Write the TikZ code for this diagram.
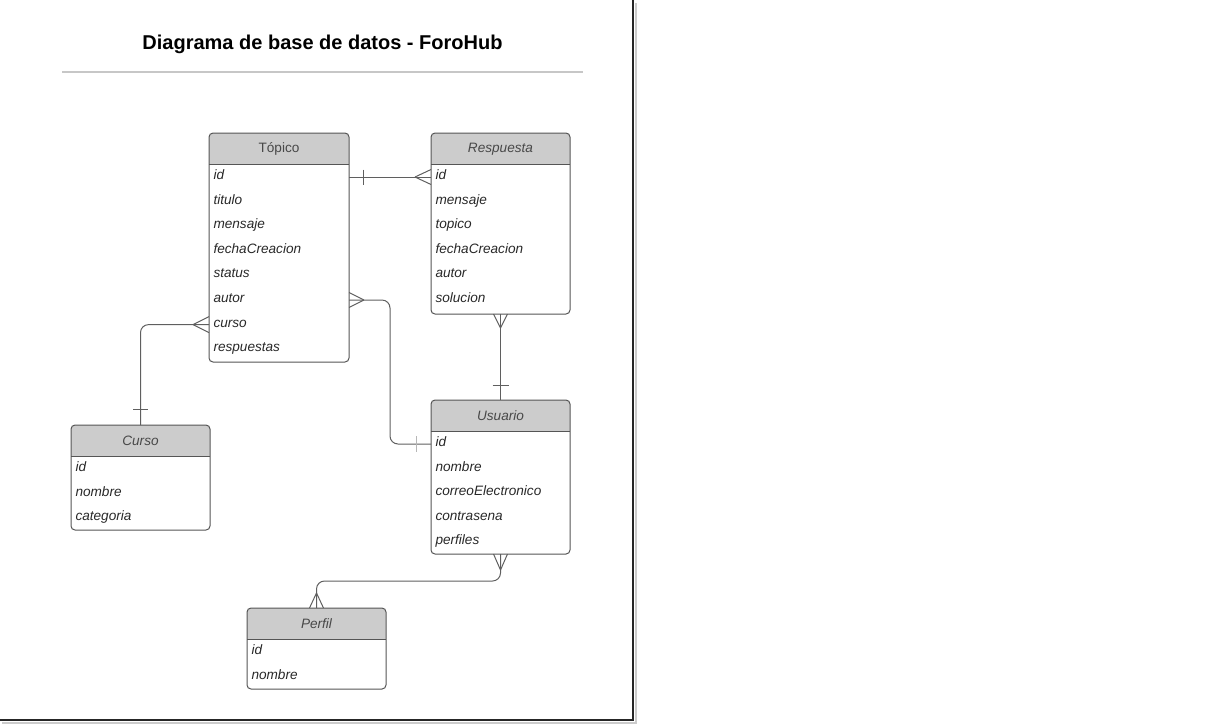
\documentclass[tikz,border=0pt]{standalone}
\usepackage{fontspec}
\setmainfont{Liberation Sans}
\usetikzlibrary{calc}

\definecolor{hdrgray}{RGB}{204,204,204}
\definecolor{boxline}{RGB}{85,85,85}
\definecolor{relline}{RGB}{95,95,95}
\definecolor{fldtext}{RGB}{40,40,40}

\begin{document}
\begin{tikzpicture}[x=0.75pt, y=-0.75pt, line width=0.75pt,
  tbl/.style={anchor=north west, inner sep=0pt, minimum width=103.5pt},
  hdr/.style={font=\fontsize{10.2}{12}\selectfont, text=fldtext!85},
  fld/.style={anchor=west, inner xsep=3pt, inner ysep=0pt, text height=6.75pt, text depth=3pt,
    font=\fontsize{10.2}{12}\selectfont\itshape, text=fldtext},
  rel/.style={draw=relline, line width=0.75pt}]
\useasboundingbox (0,0) rectangle (1226,726);
% page
\draw[black!20, line width=1.5pt] (2,722.5) -- (635.5,722.5) -- (635.5,3);
\draw[black!85, line width=1.2pt] (0,720) -- (633,720) -- (633,0);
\node[font=\fontsize{15}{18}\selectfont\bfseries] (title) at (322.5,44) {Diagrama de base de datos - ForoHub};
\draw[black!22, line width=1.5pt] (62,71.5) -- (583,71.5);
%
\node[tbl, minimum width=104.25pt, minimum height=171pt] (topico) at (209,133) {};
\node[tbl, minimum height=135pt] (respuesta) at (431,133) {};
\node[tbl, minimum height=114.75pt] (usuario) at (431,400) {};
\node[tbl, minimum height=78pt] (curso) at (71,425) {};
\node[tbl, minimum height=60pt] (perfil) at (247,608) {};
\foreach \t in {topico,respuesta,usuario,curso,perfil}{
  \begin{scope}
    \clip[rounded corners=3pt] (\t.north west) rectangle (\t.south east);
    \fill[hdrgray] (\t.north west) rectangle ($(\t.north east)+(0,31.5)$);
  \end{scope}
  \draw[boxline] ($(\t.north west)+(0,31.5)$) -- ($(\t.north east)+(0,31.5)$);
  \draw[boxline, rounded corners=3pt] (\t.north west) rectangle (\t.south east);
}
%
\node[hdr] (topico-t) at ($(topico.north)+(0,16)$) {Tópico};
\node[hdr, font=\fontsize{10.2}{12}\selectfont\itshape] (respuesta-t) at ($(respuesta.north)+(0,16)$) {Respuesta};
\node[hdr, font=\fontsize{10.2}{12}\selectfont\itshape] (usuario-t) at ($(usuario.north)+(0,16)$) {Usuario};
\node[hdr, font=\fontsize{10.2}{12}\selectfont\itshape] (curso-t) at ($(curso.north)+(0,16)$) {Curso};
\node[hdr, font=\fontsize{10.2}{12}\selectfont\itshape] (perfil-t) at ($(perfil.north)+(0,16)$) {Perfil};
%
\foreach \f [count=\i from 0] in {id,titulo,mensaje,fechaCreacion,status,autor,curso,respuestas}
  \node[fld] (top-\f) at ($(topico.north west)+(0,44+24.6*\i)$) {\f};
\foreach \f [count=\i from 0] in {id,mensaje,topico,fechaCreacion,autor,solucion}
  \node[fld] (res-\f) at ($(respuesta.north west)+(0,44+24.6*\i)$) {\f};
\foreach \f [count=\i from 0] in {id,nombre,correoElectronico,contrasena,perfiles}
  \node[fld] (usu-\f) at ($(usuario.north west)+(0,44+24.6*\i)$) {\f};
\foreach \f [count=\i from 0] in {id,nombre,categoria}
  \node[fld] (cur-\f) at ($(curso.north west)+(0,44+24.6*\i)$) {\f};
\foreach \f [count=\i from 0] in {id,nombre}
  \node[fld] (per-\f) at ($(perfil.north west)+(0,44+24.6*\i)$) {\f};
%
% Topico 1 -- N Respuesta
\coordinate (r1a) at (topico.east |- top-id);
\coordinate (r1b) at (respuesta.west |- res-id);
\draw[rel] (r1a) -- (r1b);
\draw[rel] (r1a) ++(14,-7.5) -- ++(0,15);
\draw[rel] (r1b) ++(-16,0) -- ++(16,-7.5) ++(0,15) -- ++(-16,-7.5);
% Topico N -- 1 Usuario
\coordinate (r2a) at (topico.east |- top-autor);
\coordinate (r2b) at (usuario.west |- usu-id);
\draw[rel, rounded corners=6pt] (r2a) -| ($(r2a)!.5!(r2b)$) |- (r2b);
\draw[rel] (r2a) ++(15,0) -- ++(-15,-7.5) ++(0,15) -- ++(15,-7.5);
\draw[rel, draw=relline!45] (r2b) ++(-15,-8) -- ++(0,16);
% Topico N -- 1 Curso
\coordinate (r3a) at (topico.west |- top-curso);
\draw[rel, rounded corners=6pt] (r3a) -| (curso.north);
\draw[rel] (r3a) ++(-16,0) -- ++(16,-8) ++(0,16) -- ++(-16,-8);
\draw[rel] (curso.north) ++(-7.5,-16) -- ++(15,0);
% Respuesta N -- 1 Usuario
\draw[rel] (respuesta.south) -- (usuario.north);
\draw[rel] (respuesta.south) ++(0,14) -- ++(-7,-14) ++(14,0) -- ++(-7,14);
\draw[rel] (usuario.north) ++(-8,-15) -- ++(16,0);
% Usuario N -- N Perfil
\draw[rel, rounded corners=6pt] (usuario.south) |- ($(usuario.south)!.5!(perfil.north)$) -| (perfil.north);
\draw[rel] (usuario.south) ++(0,16) -- ++(-7,-16) ++(14,0) -- ++(-7,16);
\draw[rel] (perfil.north) ++(0,-15) -- ++(-7,15) ++(14,0) -- ++(-7,-15);
\end{tikzpicture}
\end{document}
